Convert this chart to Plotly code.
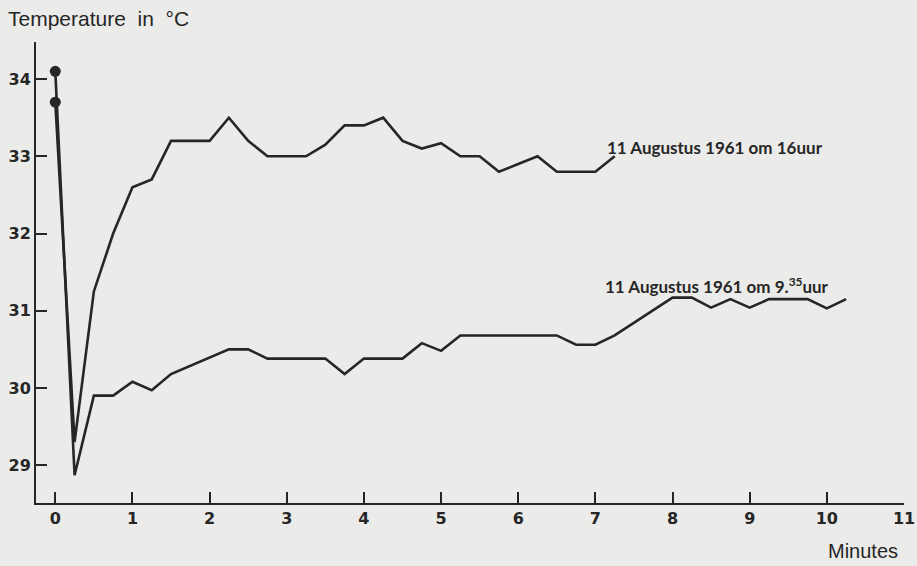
import plotly.graph_objects as go

# ---- data ----
minutes_16uur = [0, 0.25, 0.5, 0.75, 1.0, 1.25, 1.5, 1.75, 2.0, 2.25, 2.5, 2.75, 3.0, 3.25,
                 3.5, 3.75, 4.0, 4.25, 4.5, 4.75, 5.0, 5.25, 5.5, 5.75, 6.0, 6.25, 6.5,
                 6.75, 7.0, 7.25]
temp_16uur = [33.7, 29.3, 31.25, 32.0, 32.6, 32.7, 33.2, 33.2, 33.2, 33.5, 33.2, 33.0, 33.0,
              33.0, 33.15, 33.4, 33.4, 33.5, 33.2, 33.1, 33.17, 33.0, 33.0, 32.8, 32.9,
              33.0, 32.8, 32.8, 32.8, 33.0]

minutes_935uur = [0, 0.25, 0.5, 0.75, 1.0, 1.25, 1.5, 1.75, 2.0, 2.25, 2.5, 2.75, 3.0, 3.25,
                  3.5, 3.75, 4.0, 4.25, 4.5, 4.75, 5.0, 5.25, 5.5, 5.75, 6.0, 6.25, 6.5,
                  6.75, 7.0, 7.25, 7.5, 7.75, 8.0, 8.25, 8.5, 8.75, 9.0, 9.25, 9.5, 9.75,
                  10.0, 10.25]
temp_935uur = [34.1, 28.87, 29.9, 29.9, 30.08, 29.97, 30.18, 30.29, 30.4, 30.5, 30.5, 30.38,
               30.38, 30.38, 30.38, 30.18, 30.38, 30.38, 30.38, 30.58, 30.48, 30.68, 30.68,
               30.68, 30.68, 30.68, 30.68, 30.56, 30.56, 30.68, 30.84, 31.01, 31.17, 31.17,
               31.04, 31.15, 31.04, 31.15, 31.15, 31.15, 31.03, 31.15]

x_ticks = [0, 1, 2, 3, 4, 5, 6, 7, 8, 9, 10, 11]
y_ticks = [29, 30, 31, 32, 33, 34]

label_16uur = "11 Augustus 1961 om 16uur"
label_935uur = "11 Augustus 1961 om 9.<sup>35</sup>uur"
y_title = "Temperature\u00a0\u00a0in\u00a0\u00a0\u00b0C"
x_title = "Minutes"

# ---- style ----
ink = "#262626"
paper = "#ebebe9"

fig = go.Figure()
fig.add_trace(go.Scatter(x=minutes_16uur, y=temp_16uur, mode="lines",
                         line=dict(color=ink, width=2.6), hoverinfo="skip"))
fig.add_trace(go.Scatter(x=minutes_935uur, y=temp_935uur, mode="lines",
                         line=dict(color=ink, width=2.6), hoverinfo="skip"))
fig.add_trace(go.Scatter(x=[minutes_935uur[0], minutes_16uur[0]],
                         y=[temp_935uur[0], temp_16uur[0]], mode="markers",
                         marker=dict(color=ink, size=11), hoverinfo="skip"))

tickfont = dict(family="DejaVu Sans", size=16, color=ink, weight="bold")
fig.update_xaxes(range=[-0.25, 11], tickvals=x_ticks, ticktext=[str(v) for v in x_ticks],
                 showline=True, linecolor=ink, linewidth=2, ticks="inside", ticklen=11,
                 tickwidth=2, tickcolor=ink, showgrid=False, zeroline=False, tickfont=tickfont,
                 automargin=False)
fig.update_yaxes(range=[28.51, 34.48], tickvals=y_ticks, ticktext=[str(v) for v in y_ticks],
                 showline=True, linecolor=ink, linewidth=2, ticks="inside", ticklen=11,
                 tickwidth=2, tickcolor=ink, showgrid=False, zeroline=False, tickfont=tickfont,
                 automargin=False)

labfont = dict(family="Lato", size=17, color=ink, weight="bold")
fig.add_annotation(x=7.12, y=33.11, xref="x", yref="y", text=label_16uur, showarrow=False,
                   xanchor="left", yanchor="middle", font=labfont)
fig.add_annotation(x=7.10, y=31.33, xref="x", yref="y", text=label_935uur, showarrow=False,
                   xanchor="left", yanchor="middle", font=labfont)
fig.add_annotation(x=-0.035, y=1.052, xref="paper", yref="paper", text=y_title, showarrow=False,
                   xanchor="left", yanchor="middle",
                   font=dict(family="Liberation Sans", size=21, color=ink))
fig.add_annotation(x=0.995, y=-0.104, xref="paper", yref="paper", text=x_title, showarrow=False,
                   xanchor="right", yanchor="middle",
                   font=dict(family="Liberation Sans", size=20, color=ink))

fig.update_layout(width=917, height=566, margin=dict(l=36, r=13, t=42, b=63),
                  paper_bgcolor=paper, plot_bgcolor=paper, showlegend=False,
                  hovermode=False)
fig.write_html("out.html", config={"displayModeBar": False},
               post_script="document.body.style.margin='0';")
